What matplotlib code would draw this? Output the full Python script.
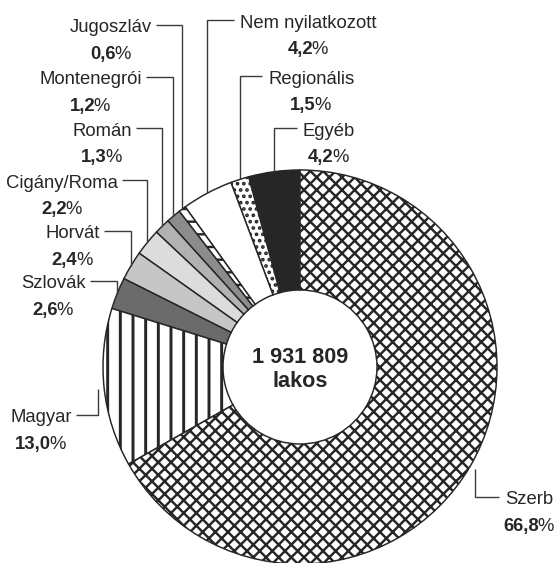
import math

import matplotlib
matplotlib.use('Agg')
import matplotlib.pyplot as plt
from matplotlib import font_manager

# Népesség nemzetiség szerint (tetejétől az óramutatóval ellentétesen)
nations = ['Egyéb', 'Regionális', 'Nem nyilatkozott', 'Jugoszláv', 'Montenegrói',
           'Román', 'Cigány/Roma', 'Horvát', 'Szlovák', 'Magyar', 'Szerb']
shares = [4.2, 1.5, 4.2, 0.6, 1.2, 1.3, 2.2, 2.4, 2.6, 13.0, 66.8]
population = '1 931 809'
unit = 'lakos'

fills = ['#262626', 'white', 'white', 'white', '#8c8c8c', '#b2b2b2',
         '#dcdcdc', '#c6c6c6', '#6b6b6b', 'white', 'white']
hatches = [None, '..', None, '-', None, None, None, None, None, '|', 'xx']

# label text anchors in pixels (x, y from top), side where the leader leaves the text,
# and how far from the rim the leader stops
label_pos = {
    'Egyéb': (303, 128, 'left', 0),
    'Regionális': (268, 76, 'left', 0),
    'Nem nyilatkozott': (240, 20, 'left', 0),
    'Jugoszláv': (152, 25, 'right', 0),
    'Montenegrói': (142, 77, 'right', 0),
    'Román': (132, 128, 'right', 0),
    'Cigány/Roma': (118, 180, 'right', 0),
    'Horvát': (100, 231, 'right', 0),
    'Szlovák': (86, 281, 'right', 0),
    'Magyar': (72, 415, 'right', 6),
    'Szerb': (505, 497, 'left', 6),
}

W, H = 555, 563
DPI = 76
ink = '#262626'

names = {f.name for f in font_manager.fontManager.ttflist}
if 'Liberation Sans Narrow' in names:
    label_font, label_size = 'Liberation Sans Narrow', 20.5
else:
    label_font, label_size = 'Liberation Sans', 17.5
plt.rcParams['font.family'] = ['Liberation Sans', 'DejaVu Sans']
plt.rcParams['hatch.linewidth'] = 2.3
plt.rcParams['hatch.color'] = ink

fig = plt.figure(figsize=(W / DPI, H / DPI), dpi=DPI)
ax = fig.add_axes([0, 0, 1, 1])

cx, cy, R = 300, H - 367, 197
wedges, _ = ax.pie(shares, startangle=90, counterclock=True, radius=R,
                   center=(cx, cy), colors=fills,
                   wedgeprops=dict(width=120, edgecolor=ink, linewidth=1.4))
for w, h in zip(wedges, hatches):
    if h:
        w.set_hatch(h)
        if h == '|' and hasattr(w, 'set_hatch_linewidth'):
            w.set_hatch_linewidth(2.8)
ax.set_xlim(0, W)
ax.set_ylim(0, H)
ax.axis('off')

renderer = fig.canvas.get_renderer()


def text_width(t):
    return t.get_window_extent(renderer).width


def pct_label(xc, ybase, value):
    num = ax.text(0, ybase, f'{value:.1f}'.replace('.', ','), fontsize=label_size,
                  family=label_font, weight='bold', color=ink, ha='left', va='baseline')
    sign = ax.text(0, ybase, '%', fontsize=label_size, family=label_font,
                   color=ink, ha='left', va='baseline')
    w1, w2 = text_width(num), text_width(sign)
    x0 = xc - (w1 + w2) / 2
    num.set_x(x0)
    sign.set_x(x0 + w1 - 1.5)


for w, name, value in zip(wedges, nations, shares):
    x, y, side, gap = label_pos[name]
    t = ax.text(x, H - y - 7.5, name, fontsize=label_size, family=label_font,
                color=ink, ha=side, va='baseline')
    tw = text_width(t)
    xc = x - tw / 2 if side == 'right' else x + tw / 2
    pct_label(xc, H - y - 34, value)

    # leader line: from the text to the middle of the wedge
    a = math.radians((w.theta1 + w.theta2) / 2)
    ex = cx + (R + gap) * math.cos(a)
    ey = cy + (R + gap) * math.sin(a)
    sx = x + 4 if side == 'right' else x - 6
    ax.plot([sx, ex, ex], [H - y, H - y, ey], color='#3a3a3a', lw=1.3,
            solid_joinstyle='miter', solid_capstyle='butt')

ax.text(cx, cy + 4, population, fontsize=20.5, weight='bold', color=ink,
        ha='center', va='baseline')
ax.text(cx, cy - 20, unit, fontsize=20.5, weight='bold', color=ink,
        ha='center', va='baseline')

fig.savefig('out.png', dpi=DPI)
